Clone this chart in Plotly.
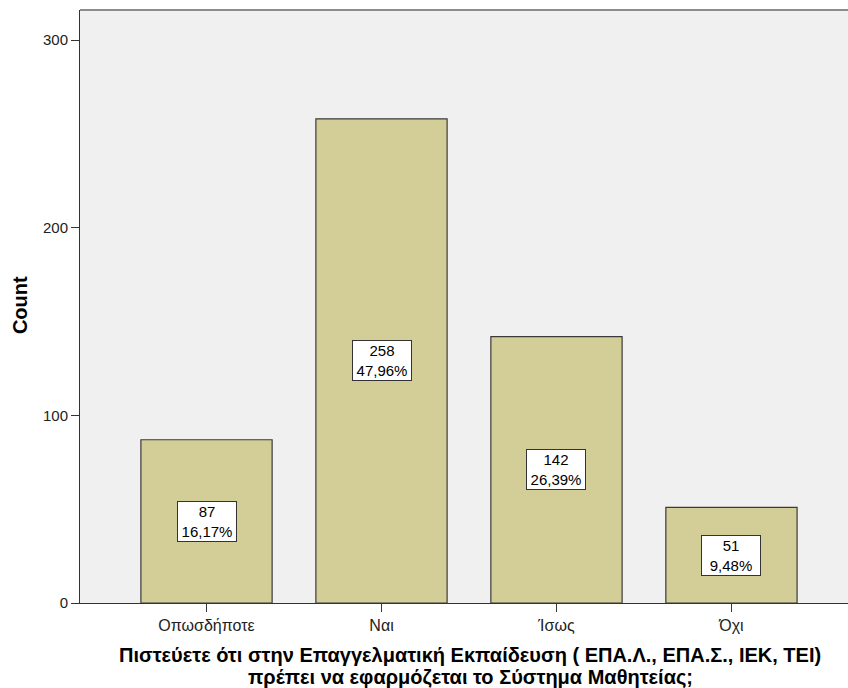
import plotly.graph_objects as go

categories = ["Οπωσδήποτε", "Ναι", "Ίσως", "Όχι"]
counts = [87, 258, 142, 51]
percents = ["16,17%", "47,96%", "26,39%", "9,48%"]
y_ticks = [0, 100, 200, 300]
x_title_lines = ["Πιστεύετε ότι στην Επαγγελματική Εκπαίδευση ( ΕΠΑ.Λ., ΕΠΑ.Σ., ΙΕΚ, ΤΕΙ)",
                 "πρέπει να εφαρμόζεται το Σύστημα Μαθητείας;"]
y_title = "Count"

FONT = "Liberation Sans, Arial, sans-serif"

fig = go.Figure()
fig.add_trace(go.Bar(
    x=list(range(len(categories))),
    y=counts,
    width=0.75,
    marker=dict(color="#D3CE98", line=dict(color="#3a3a3a", width=1.2)),
    hoverinfo="skip",
))

for i, (c, p) in enumerate(zip(counts, percents)):
    fig.add_annotation(
        x=i, y=c / 2, xref="x", yref="y",
        text=f"{c}<br>{p}", showarrow=False,
        font=dict(family=FONT, size=15, color="#000"),
        width=54, height=35,
        bgcolor="white", bordercolor="#333", borderwidth=1, borderpad=2,
    )

# axis titles as annotations for tight line spacing
for line, yp in zip(x_title_lines, [-0.0877, -0.1248]):
    fig.add_annotation(
        x=0.508, y=yp, xref="paper", yref="paper", showarrow=False,
        xanchor="center", yanchor="middle",
        text=f"<b>{line}</b>", font=dict(family=FONT, size=20, color="#000"),
    )
fig.add_annotation(
    x=-0.078, y=0.5025, xref="paper", yref="paper", showarrow=False,
    xanchor="center", yanchor="middle", textangle=-90,
    text=f"<b>{y_title}</b>", font=dict(family=FONT, size=20, color="#000"),
)

fig.add_shape(type="line", xref="paper", yref="paper", x0=0, x1=1, y0=1, y1=1,
              line=dict(color="#8c8c8c", width=2))

fig.update_layout(
    width=848, height=688,
    margin=dict(l=80, r=0, t=10, b=85),
    paper_bgcolor="white", plot_bgcolor="#F0F0F0",
    showlegend=False,
    font=dict(family=FONT, size=15, color="#222"),
    xaxis=dict(
        range=[-0.723, 3.666],
        tickmode="array", tickvals=list(range(len(categories))), ticktext=categories,
        ticks="outside", ticklen=8, tickcolor="#333", tickwidth=1,
        showline=True, linecolor="#333", linewidth=1,
        showgrid=False, zeroline=False,
        tickfont=dict(family=FONT, size=16, color="#222"),
    ),
    yaxis=dict(
        range=[0, 316],
        tickmode="array", tickvals=y_ticks, ticktext=[str(v) for v in y_ticks],
        ticks="outside", ticklen=8, tickcolor="#333", tickwidth=1,
        showline=True, linecolor="#333", linewidth=1,
        showgrid=False, zeroline=False,
        tickfont=dict(family=FONT, size=15, color="#222"),
    ),
)

fig.write_html("out.html", config={"displayModeBar": False},
               post_script="document.body.style.margin='0';document.body.style.overflow='hidden';")
